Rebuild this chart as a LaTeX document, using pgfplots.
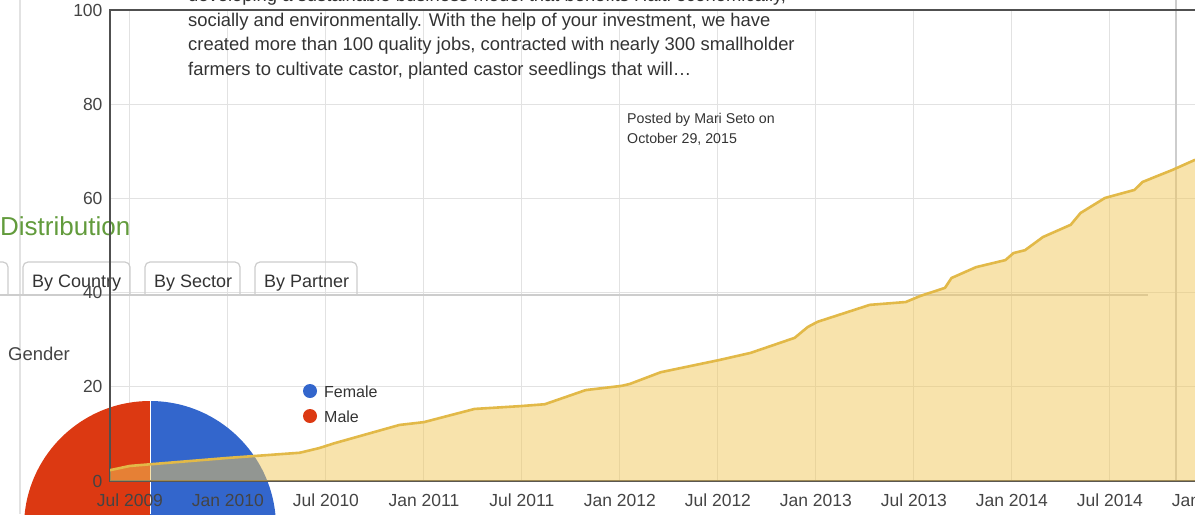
\documentclass[border=0pt]{standalone}
\usepackage{pgfplots}
\pgfplotsset{compat=1.18}
\usepackage{fontspec}
\setmainfont{Liberation Sans}
\definecolor{areaf}{RGB}{241,199,89}
\definecolor{linec}{RGB}{226,185,72}
\definecolor{gridc}{RGB}{226,226,226}
\definecolor{framec}{RGB}{80,80,80}
\definecolor{txt}{RGB}{68,68,68}
\definecolor{ptxt}{RGB}{51,51,51}
\definecolor{pred}{RGB}{220,57,18}
\definecolor{pblue}{RGB}{51,102,204}
\definecolor{dgreen}{RGB}{98,155,60}
\definecolor{tabc}{RGB}{205,205,205}
\pgfplotsset{common/.style={
  at={(110pt,-481pt)}, anchor=south west, scale only axis,
  width=1106pt, height=471pt,
  xmin=4.78, xmax=72.5, ymin=0, ymax=100,
  xtick={6,12,...,72}, ytick={0,20,...,100},
  tick style={draw=none},
}}
\begin{document}
\begin{tikzpicture}
% grid layer
\begin{axis}[common, grid=major, major grid style={gridc, line width=1.1pt},
  axis line style={draw=none}, xticklabels={}, yticklabels={}]
\addplot[draw=none] coordinates {(10,10)};
\end{axis}
\begin{scope}[x=1pt,y=-1pt]
% faint vertical page lines
\draw[gridc, line width=1.1pt] (20,0) -- (20,514);
\draw[tabc, line width=1.5pt] (1176,0) -- (1176,481);
% pie
\fill[pred] (150,527) -- (150,401) arc[start angle=270,end angle=90,radius=126] -- cycle;
\fill[pblue] (150,527) -- (150,401) arc[start angle=270,end angle=450,radius=126] -- cycle;
\draw[white, line width=1pt] (150,401) -- (150,514);
% tabs
\draw[tabc, line width=1.2pt] (0,295) -- (1148,295);
\draw[tabc, line width=1.2pt, rounded corners=5pt] (-10,262) -- (8,262) -- (8,295);
\draw[tabc, line width=1.2pt, rounded corners=5pt] (23,295) -- (23,262) -- (130,262) -- (130,295);
\draw[tabc, line width=1.2pt, rounded corners=5pt] (145,295) -- (145,262) -- (240,262) -- (240,295);
\draw[tabc, line width=1.2pt, rounded corners=5pt] (255,295) -- (255,262) -- (357,262) -- (357,295);
\node[anchor=base west, inner sep=0pt, text=ptxt, font=\fontsize{18}{20}\selectfont] at (32,287) {By Country};
\node[anchor=base west, inner sep=0pt, text=ptxt, font=\fontsize{18}{20}\selectfont] at (154,287) {By Sector};
\node[anchor=base west, inner sep=0pt, text=ptxt, font=\fontsize{18}{20}\selectfont] at (264,287) {By Partner};
\node[anchor=base west, inner sep=0pt, text=dgreen, font=\fontsize{26}{28}\selectfont] at (0,235) {Distribution};
\node[anchor=base west, inner sep=0pt, text=txt, font=\fontsize{18.5}{20}\selectfont] at (8,360) {Gender};
% legend of pie
\fill[pblue] (310,391) circle[radius=7];
\fill[pred] (310,416) circle[radius=7];
\node[anchor=base west, inner sep=0pt, text=ptxt, font=\fontsize{16}{18}\selectfont] at (324,397) {Female};
\node[anchor=base west, inner sep=0pt, text=ptxt, font=\fontsize{16}{18}\selectfont] at (324,422) {Male};
\end{scope}
% data layer
\begin{axis}[common,
  axis line style={framec, line width=2.3pt},
  xticklabels={Jul 2009, Jan 2010, Jul 2010, Jan 2011, Jul 2011, Jan 2012, Jul 2012, Jan 2013, Jul 2013, Jan 2014, Jul 2014, Jan 2015},
  tick label style={font=\fontsize{17.5}{19}\selectfont, text=txt},
  xticklabel style={yshift=-9.5pt},
  yticklabel style={xshift=-4pt},
  /pgf/number format/assume math mode=true]
\addplot[fill=areaf, fill opacity=0.5, draw=none] coordinates {
(4.78,2.3) (6,3.2) (12,4.9) (16.4,6.0) (17.6,7.0) (18.5,8.0) (22.5,11.9) (24,12.5)
(27.1,15.3) (29.9,15.9) (31.4,16.3) (33.9,19.3) (36.1,20.2) (36.6,20.6) (38.5,23.1)
(42.1,25.7) (44,27.2) (46.7,30.4) (47.5,32.7) (48.1,33.8) (51.3,37.4) (53.5,38.0)
(54.4,39.3) (55.9,41.0) (56.3,43.1) (57.8,45.4) (59.6,46.9) (60.1,48.4) (60.8,49.0)
(61.9,51.8) (63.6,54.4) (64.2,56.9) (65.7,60.1) (67.5,61.8) (68.0,63.5) (69.8,66.0)
(71.22,68.2)} \closedcycle;
\addplot[linec, line width=2.6pt, line join=round] coordinates {
(4.78,2.3) (6,3.2) (12,4.9) (16.4,6.0) (17.6,7.0) (18.5,8.0) (22.5,11.9) (24,12.5)
(27.1,15.3) (29.9,15.9) (31.4,16.3) (33.9,19.3) (36.1,20.2) (36.6,20.6) (38.5,23.1)
(42.1,25.7) (44,27.2) (46.7,30.4) (47.5,32.7) (48.1,33.8) (51.3,37.4) (53.5,38.0)
(54.4,39.3) (55.9,41.0) (56.3,43.1) (57.8,45.4) (59.6,46.9) (60.1,48.4) (60.8,49.0)
(61.9,51.8) (63.6,54.4) (64.2,56.9) (65.7,60.1) (67.5,61.8) (68.0,63.5) (69.8,66.0)
(71.22,68.2)};
\end{axis}
\begin{scope}[x=1pt,y=-1pt]
% post text
\node[anchor=base west, inner sep=0pt, text=ptxt, font=\fontsize{18.4}{20}\selectfont] at (188,1.5) {developing a sustainable business model that benefits Haiti economically,};
\node[anchor=base west, inner sep=0pt, text=ptxt, font=\fontsize{18.4}{20}\selectfont] at (188,26) {socially and environmentally. With the help of your investment, we have};
\node[anchor=base west, inner sep=0pt, text=ptxt, font=\fontsize{18.4}{20}\selectfont] at (188,50.5) {created more than 100 quality jobs, contracted with nearly 300 smallholder};
\node[anchor=base west, inner sep=0pt, text=ptxt, font=\fontsize{18.4}{20}\selectfont] at (188,75) {farmers to cultivate castor, planted castor seedlings that will\ldots};
\node[anchor=base west, inner sep=0pt, text=ptxt, font=\fontsize{14.2}{16}\selectfont] at (627,123) {Posted by Mari Seto on};
\node[anchor=base west, inner sep=0pt, text=ptxt, font=\fontsize{14.2}{16}\selectfont] at (627,143) {October 29, 2015};
% right edge cut
\fill[white] (1195,-5) rectangle (1210,520);
\end{scope}
\pgfresetboundingbox
\path[use as bounding box] (0pt,0pt) rectangle (1204pt,-514pt);
\end{tikzpicture}
\end{document}
